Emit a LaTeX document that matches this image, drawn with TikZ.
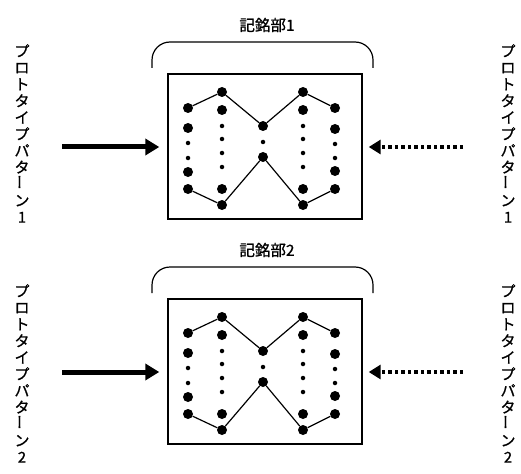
\documentclass[tikz,border=0pt]{standalone}
\usepackage{fontspec}
\usepackage{graphicx}
\newfontfamily\jp[FakeBold=0.9]{Noto Sans CJK JP}
\usetikzlibrary{arrows.meta}
\tikzset{
 big/.style={circle,fill=black,inner sep=0pt,minimum size=10pt},
 small/.style={circle,fill=black,inner sep=0pt,minimum size=4.5pt},
 memory/.style={draw,line width=1.4pt,inner sep=0pt,minimum width=194pt,minimum height=145pt},
 link/.style={line width=1.2pt},
 brace/.style={line width=1.2pt,rounded corners=18pt},
 solidarrow/.style={line width=5pt,-{Triangle[length=14pt,width=16pt]},shorten >=8pt},
 dotarrow/.style={line width=3.5pt,dash pattern=on 3.5pt off 3pt,-{Triangle[length=12pt,width=14pt]},shorten >=6pt},
 vlabel/.style={font=\jp\fontsize{15pt}{16.6pt}\selectfont,align=center,inner sep=0pt,anchor=north},
 title/.style={font=\jp\fontsize{15.5pt}{18pt}\selectfont,inner sep=0pt}
}
\newcommand{\vbar}{\rotatebox{90}{ー}}
\begin{document}
\begin{tikzpicture}[x=1pt,y=-1pt]
\useasboundingbox (0,0) rectangle (521,473);
\foreach \b/\oy/\ty in {1/0/0,2/225/240}{
 \node[vlabel] (lv\b) at (22,{44+\ty}) {プ\\ロ\\ト\\タ\\イ\\プ\\パ\\タ\\\vbar\\ン\\\b};
 \node[vlabel] (rv\b) at (508,{44+\ty}) {プ\\ロ\\ト\\タ\\イ\\プ\\パ\\タ\\\vbar\\ン\\\b};
 \begin{scope}[yshift=-\oy pt]
  \node[title] (title\b) at (267,25) {記銘部\b};
  \draw[brace] (152,68) -- (152,42) -- (373,42) -- (373,68);
  \node[memory] (box\b) at (265,146.5) {};
  % column 1
  \node[big] (a\b1) at (188,108) {};
  \node[big] (p\b1) at (188,128) {};
  \node[small] (q\b1) at (188,143) {};
  \node[small] (r\b1) at (188,158) {};
  \node[big] (s\b1) at (188,172) {};
  \node[big] (z\b1) at (188,189) {};
  % column 2
  \node[big] (a\b2) at (222,92) {};
  \node[big] (p\b2) at (222,110) {};
  \node[small] (q\b2) at (222,126) {};
  \node[small] (r\b2) at (222,139) {};
  \node[small] (s\b2) at (222,153) {};
  \node[small] (t\b2) at (222,167) {};
  \node[big] (u\b2) at (222,189) {};
  \node[big] (z\b2) at (222,205) {};
  % column 3
  \node[big] (a\b3) at (263,126) {};
  \node[small] (q\b3) at (263,142) {};
  \node[big] (z\b3) at (263,157) {};
  % column 4
  \node[big] (a\b4) at (303,92) {};
  \node[big] (p\b4) at (303,110) {};
  \node[small] (q\b4) at (303,126) {};
  \node[small] (r\b4) at (303,139) {};
  \node[small] (s\b4) at (303,153) {};
  \node[small] (t\b4) at (303,167) {};
  \node[big] (u\b4) at (303,189) {};
  \node[big] (z\b4) at (303,205) {};
  % column 5
  \node[big] (a\b5) at (335,108) {};
  \node[big] (p\b5) at (335,129) {};
  \node[small] (q\b5) at (335,144) {};
  \node[small] (r\b5) at (335,158) {};
  \node[big] (s\b5) at (335,171) {};
  \node[big] (z\b5) at (335,189) {};
  \draw[link] (a\b1) -- (a\b2) -- (a\b3) -- (a\b4) -- (a\b5);
  \draw[link] (z\b1) -- (z\b2) -- (z\b3) -- (z\b4) -- (z\b5);
  \coordinate (ls\b) at (62,147);
  \coordinate (rs\b) at (463,147);
  \draw[solidarrow] (ls\b) -- (box\b.west |- ls\b);
  \draw[dotarrow] (rs\b) -- (box\b.east |- rs\b);
 \end{scope}
}
\end{tikzpicture}
\end{document}
